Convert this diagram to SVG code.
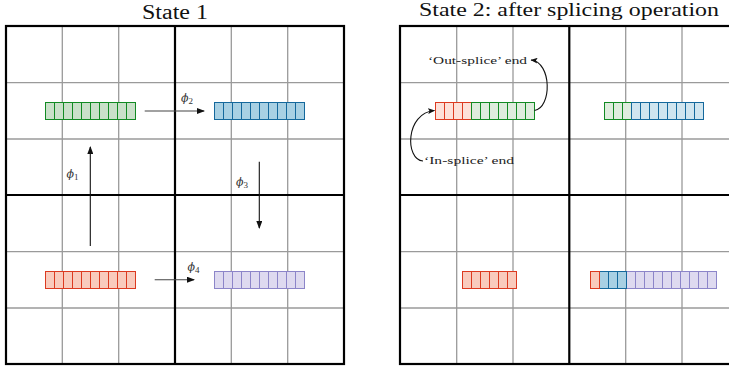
<svg xmlns="http://www.w3.org/2000/svg" width="729" height="370" viewBox="0 0 729 370">
<style>
.title{font-family:"Liberation Serif",serif;font-size:20px;fill:#111}
.lbl{font-family:"Liberation Serif",serif;font-size:10.5px;fill:#222}
.phi{font-family:"DejaVu Serif","Liberation Serif",serif;font-style:italic;font-size:11px;fill:#333}
.sub{font-family:"Liberation Serif",serif;font-style:normal;font-size:9px;fill:#333}
.gl{stroke:#9a9a9a;stroke-width:1.3;fill:none}
.tk{stroke:#000;stroke-width:2.2;fill:none}
.g{fill:#c9e0c9;stroke:#128a23}
.gL{fill:#deecdd;stroke:#128a23}
.b{fill:#a8d0e3;stroke:#14689c}
.bL{fill:#d0e5ef;stroke:#14689c}
.r{fill:#f9cbbd;stroke:#dc3a20}
.rL{fill:#fde1d9;stroke:#dc3a20}
.p{fill:#dedaf0;stroke:#8c85c9}
.cell{stroke-width:1}
.ar{stroke:#111;stroke-width:1.1;fill:none}
</style>
<defs>
<marker id="ah" markerWidth="8" markerHeight="6" refX="7" refY="3" orient="auto" markerUnits="userSpaceOnUse">
<path d="M0,0 L8,3 L0,6 Z" fill="#111"/>
</marker>
<marker id="ah2" markerWidth="7" markerHeight="6" refX="6.5" refY="3" orient="auto" markerUnits="userSpaceOnUse">
<path d="M0,0 L7,3 L0,6 L1.5,3 Z" fill="#111"/>
</marker>
</defs>

<!-- titles -->
<text class="title" x="175" y="19" text-anchor="middle" textLength="66" lengthAdjust="spacingAndGlyphs">State 1</text>
<text class="title" x="569" y="15.5" text-anchor="middle" style="font-size:18.5px" textLength="300" lengthAdjust="spacingAndGlyphs">State 2: after splicing operation</text>

<!-- grids -->
<g id="grid1">
<path class="gl" d="M62.3,26V364M118.7,26V364M231.3,26V364M287.7,26V364M6,82.7H344M6,139H344M6,251.7H344M6,308H344"/>
<rect class="tk" x="6" y="26" width="338" height="338"/>
<path class="tk" d="M175,26V364M6,195H344"/>
</g>
<g id="grid2">
<path class="gl" d="M456.7,26V364M513,26V364M625.7,26V364M682,26V364M400,82.7H738M400,139H738M400,251.7H738M400,308H738"/>
<rect class="tk" x="400" y="26" width="338" height="338"/>
<path class="tk" d="M569.3,26V364M400,195H738"/>
</g>

<!-- State 1 nodes -->
<g id="green1">
<rect class="g cell" x="45.5" y="102.5" width="90" height="17"/>
<path class="g cell" d="M54.5,102.5V119.5M63.5,102.5V119.5M72.5,102.5V119.5M81.5,102.5V119.5M90.5,102.5V119.5M99.5,102.5V119.5M108.5,102.5V119.5M117.5,102.5V119.5M126.5,102.5V119.5"/>
</g>
<g id="blue1">
<rect class="b cell" x="214.5" y="102.5" width="90" height="17"/>
<path class="b cell" d="M223.5,102.5V119.5M232.5,102.5V119.5M241.5,102.5V119.5M250.5,102.5V119.5M259.5,102.5V119.5M268.5,102.5V119.5M277.5,102.5V119.5M286.5,102.5V119.5M295.5,102.5V119.5"/>
</g>
<g id="red1">
<rect class="r cell" x="45.5" y="271.5" width="90" height="17"/>
<path class="r cell" d="M54.5,271.5V288.5M63.5,271.5V288.5M72.5,271.5V288.5M81.5,271.5V288.5M90.5,271.5V288.5M99.5,271.5V288.5M108.5,271.5V288.5M117.5,271.5V288.5M126.5,271.5V288.5"/>
</g>
<g id="purple1">
<rect class="p cell" x="214.5" y="271.5" width="90" height="17"/>
<path class="p cell" d="M223.5,271.5V288.5M232.5,271.5V288.5M241.5,271.5V288.5M250.5,271.5V288.5M259.5,271.5V288.5M268.5,271.5V288.5M277.5,271.5V288.5M286.5,271.5V288.5M295.5,271.5V288.5"/>
</g>

<!-- State 2 nodes -->
<g id="tl2">
<rect class="rL cell" x="435.5" y="102.5" width="36" height="17"/>
<path class="rL cell" d="M444.5,102.5V119.5M453.5,102.5V119.5M462.5,102.5V119.5"/>
<rect class="gL cell" x="471.5" y="102.5" width="63" height="17"/>
<path class="gL cell" d="M480.5,102.5V119.5M489.5,102.5V119.5M498.5,102.5V119.5M507.5,102.5V119.5M516.5,102.5V119.5M525.5,102.5V119.5"/>
</g>
<g id="tr2">
<rect class="gL cell" x="604.5" y="102.5" width="27" height="17"/>
<path class="gL cell" d="M613.5,102.5V119.5M622.5,102.5V119.5"/>
<rect class="bL cell" x="631.5" y="102.5" width="72" height="17"/>
<path class="bL cell" d="M640.5,102.5V119.5M649.5,102.5V119.5M658.5,102.5V119.5M667.5,102.5V119.5M676.5,102.5V119.5M685.5,102.5V119.5M694.5,102.5V119.5"/>
</g>
<g id="bl2">
<rect class="r cell" x="462.5" y="271.5" width="54" height="17"/>
<path class="r cell" d="M471.5,271.5V288.5M480.5,271.5V288.5M489.5,271.5V288.5M498.5,271.5V288.5M507.5,271.5V288.5"/>
</g>
<g id="br2">
<rect class="p cell" x="626.5" y="271.5" width="90" height="17"/>
<path class="p cell" d="M635.5,271.5V288.5M644.5,271.5V288.5M653.5,271.5V288.5M662.5,271.5V288.5M671.5,271.5V288.5M680.5,271.5V288.5M689.5,271.5V288.5M698.5,271.5V288.5M707.5,271.5V288.5"/>
<rect class="b cell" x="599.5" y="271.5" width="27" height="17"/>
<path class="b cell" d="M608.5,271.5V288.5M617.5,271.5V288.5"/>
<rect class="r cell" x="590.5" y="271.5" width="9" height="17"/>
</g>

<!-- connectors -->
<g id="connectors">
<path class="ar" d="M90.3,246V147" marker-end="url(#ah)"/>
<path class="ar" style="stroke:#444" d="M144.7,111H204" marker-end="url(#ah)"/>
<path class="ar" d="M259.3,161.7V228" marker-end="url(#ah)"/>
<path class="ar" style="stroke:#444" d="M154.7,279.7H194" marker-end="url(#ah)"/>
<path class="ar" d="M534.5,110.5C552,108 552,62 531,60" marker-end="url(#ah2)"/>
<path class="ar" d="M423,161C405,160 405,113 434.5,110.5" marker-end="url(#ah2)"/>
</g>

<!-- labels -->
<text class="phi" x="66.5" y="178">ϕ<tspan class="sub" dy="2">1</tspan></text>
<text class="phi" x="181" y="102">ϕ<tspan class="sub" dy="2">2</tspan></text>
<text class="phi" x="236" y="186">ϕ<tspan class="sub" dy="2">3</tspan></text>
<text class="phi" x="187.5" y="271">ϕ<tspan class="sub" dy="2">4</tspan></text>
<text class="lbl" x="428" y="63.5" textLength="99" lengthAdjust="spacingAndGlyphs">‘Out-splice’ end</text>
<text class="lbl" x="424" y="164" textLength="90" lengthAdjust="spacingAndGlyphs">‘In-splice’ end</text>
</svg>
